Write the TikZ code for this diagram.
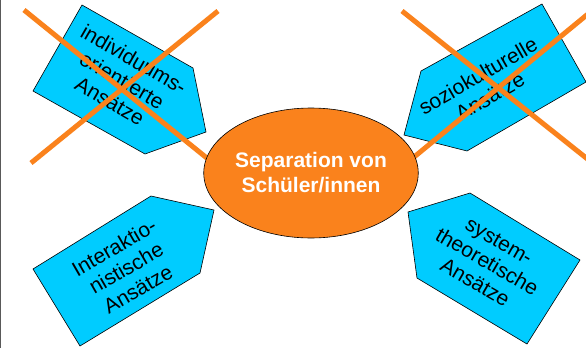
\documentclass[tikz,border=0pt]{standalone}
\usepackage{fontspec}
\setmainfont{Liberation Sans}
\usetikzlibrary{shapes.geometric}
\definecolor{cyanbox}{RGB}{0,204,255}
\definecolor{orangex}{RGB}{250,130,28}
\tikzset{
  penta/.style={fill=cyanbox, draw=black, line width=0.6pt, line join=miter},
  crossline/.style={draw=orangex, line width=5pt},
  boxtext/.style={font=\fontsize{21}{24}\selectfont, align=center, text=black, inner sep=0pt},
  centretext/.style={font=\bfseries\fontsize{21}{25}\selectfont, align=center, text=white}
}
\begin{document}
\begin{tikzpicture}[x=1pt,y=-1pt]
\useasboundingbox (0,0) rectangle (586,348);
\clip (0,0) rectangle (586,348);
\fill[white] (0,0) rectangle (586,348);
\fill[black!65] (0,0) rectangle (1.2,348);
% pentagons
\draw[penta] (82,5) -- (193,68) -- (206,132) -- (145,154) -- (33,91) -- cycle;
\draw[penta] (542,4) -- (586,82) -- (467,151) -- (404,135) -- (421,71) -- cycle;
\draw[penta] (151,196) -- (214,210) -- (200,273) -- (80,346) -- (33,269) -- cycle;
\draw[penta] (470,193) -- (580,260) -- (527,344) -- (417,278) -- (408,212) -- cycle;
% texts
\node[boxtext, rotate=-30] (tl) at (122,80) {individuums-\\orientierte\\Ansätze};
\node[boxtext, rotate=30] (tr) at (484,86) {soziokulturelle\\Ansätze};
\node[boxtext, rotate=30] (bl) at (126,268) {Interaktio-\\nistische\\Ansätze};
\node[boxtext, rotate=-30] (br) at (487,262) {system-\\theoretische\\Ansätze};
% crosses
\draw[crossline] (24,10) -- (213,163);
\draw[crossline] (218,11) -- (31,163);
\draw[crossline] (402,11) -- (605,173);
\draw[crossline] (408,162) -- (605,0);
% centre
\node[ellipse, draw=black, line width=0.6pt, fill=orangex, minimum width=181pt, minimum height=130pt, inner sep=0pt, centretext] (c) at (311,173) {Separation von\\Schüler/innen};
\end{tikzpicture}
\end{document}
